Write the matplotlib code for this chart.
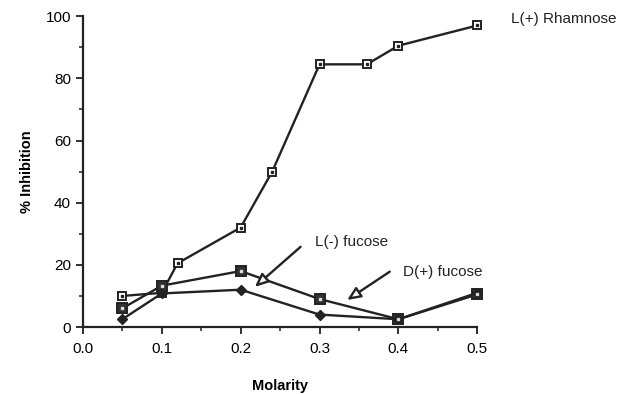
import matplotlib
matplotlib.use("Agg")
import matplotlib.pyplot as plt
from matplotlib.ticker import MultipleLocator

plt.rcParams["font.family"] = ["Liberation Sans", "DejaVu Sans"]

# data
rham_x = [0.05, 0.1, 0.12, 0.2, 0.24, 0.3, 0.36, 0.4, 0.5]
rham_y = [10, 11, 20.5, 32, 50, 84.5, 84.5, 90.5, 97]

dfuc_x = [0.05, 0.1, 0.2, 0.3, 0.4, 0.5]
dfuc_y = [6, 13.3, 18, 9, 2.5, 10.5]

lfuc_x = [0.05, 0.1, 0.2, 0.3, 0.4, 0.5]
lfuc_y = [2.5, 10.8, 12, 4, 2.5, 11]

x_ticks = [0.0, 0.1, 0.2, 0.3, 0.4, 0.5]
y_ticks = [0, 20, 40, 60, 80, 100]

fig = plt.figure(figsize=(6.28, 3.94), dpi=100)
ax = fig.add_axes([0.132, 0.170, 0.628, 0.789])

ax.plot(rham_x, rham_y, color="#222222", lw=1.7, marker="s", ms=6,
        mfc="white", mec="#222222", mew=1.4, zorder=3, clip_on=False)
ax.plot(rham_x, rham_y, ls="none", marker="s", ms=1.8, mfc="#222222",
        mec="#222222", zorder=4, clip_on=False)
ax.plot(dfuc_x, dfuc_y, color="#222222", lw=1.7, marker="s", ms=6.5,
        mfc="#333333", mec="#222222", mew=1.4, zorder=3, clip_on=False)
ax.plot(dfuc_x, dfuc_y, ls="none", marker="s", ms=2, mfc="#dddddd",
        mec="#dddddd", zorder=4, clip_on=False)
ax.plot(lfuc_x, lfuc_y, color="#222222", lw=1.7, marker="D", ms=5,
        mfc="#222222", mec="#222222", zorder=3, clip_on=False)

ax.set_xlim(0, 0.5)
ax.set_ylim(0, 100)
ax.set_xticks(x_ticks)
ax.set_yticks(y_ticks)
ax.set_xticklabels([f"{v:.1f}" for v in x_ticks])
ax.xaxis.set_minor_locator(MultipleLocator(0.05))
ax.yaxis.set_minor_locator(MultipleLocator(10))
ax.tick_params(which="major", direction="out", length=5, width=1.3,
               labelsize=11, color="#222222")
ax.tick_params(which="minor", direction="out", length=3, width=1.1,
               color="#222222")
ax.tick_params(axis="x", pad=6)

for side in ["top", "right"]:
    ax.spines[side].set_visible(False)
for side in ["left", "bottom"]:
    ax.spines[side].set_linewidth(1.6)
    ax.spines[side].set_color("#222222")

ax.set_xlabel("Molarity", fontweight="bold", fontsize=10.5, labelpad=16)
ax.set_ylabel("% Inhibition", fontweight="bold", fontsize=10.5, labelpad=8)

ax.text(0.543, 99, "L(+) Rhamnose", fontsize=11, va="center", ha="left",
        color="#222222", clip_on=False)

arrow = dict(arrowstyle="-|>,head_length=0.8,head_width=0.35", lw=1.7,
             fc="white", ec="#222222", shrinkA=0, shrinkB=0)
ax.text(0.294, 27.2, "L(-) fucose", fontsize=11, va="center", ha="left",
        color="#222222")
ax.annotate("", xy=(0.218, 12.9), xytext=(0.276, 25.8), arrowprops=arrow)
ax.text(0.406, 17.8, "D(+) fucose", fontsize=11, va="center", ha="left",
        color="#222222")
ax.annotate("", xy=(0.335, 8.7), xytext=(0.389, 17.8), arrowprops=arrow)

fig.savefig("out.png", dpi=100)
